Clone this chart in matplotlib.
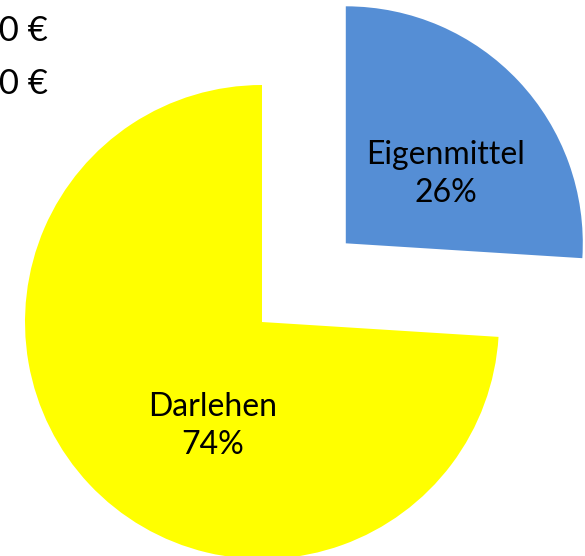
import matplotlib
matplotlib.use("Agg")
import matplotlib.pyplot as plt

labels = ["Eigenmittel", "Darlehen"]
shares = [26, 74]
colors = ["#558ED5", "#FFFF00"]
amounts = ["50.000 €", "140.000 €"]

plt.rcParams['font.family'] = ['Lato', 'DejaVu Sans']

fig = plt.figure(figsize=(5.85, 5.56), dpi=100)
ax = fig.add_axes([0, 0, 1, 1])

r = 237
# explode is in data units here, so scale by the radius
ax.pie(shares, colors=colors, explode=[0.485 * r, 0], startangle=90, counterclock=False,
       radius=r, center=(262, 234), wedgeprops=dict(linewidth=0))
ax.set_xlim(0, 585)
ax.set_ylim(0, 556)
ax.set_aspect('equal')
ax.axis('off')

# amounts at the top left, mostly cut off
ax.text(48, 525, amounts[0], ha='right', va='center', fontsize=25)
ax.text(48, 472, amounts[1], ha='right', va='center', fontsize=25)

# slice labels
ax.text(446, 382, f"{labels[0]}\n{shares[0]}%", ha='center', va='center',
        fontsize=23, linespacing=1.3)
ax.text(213, 130, f"{labels[1]}\n{shares[1]}%", ha='center', va='center',
        fontsize=23, linespacing=1.3)

fig.savefig("out.png", dpi=100)
